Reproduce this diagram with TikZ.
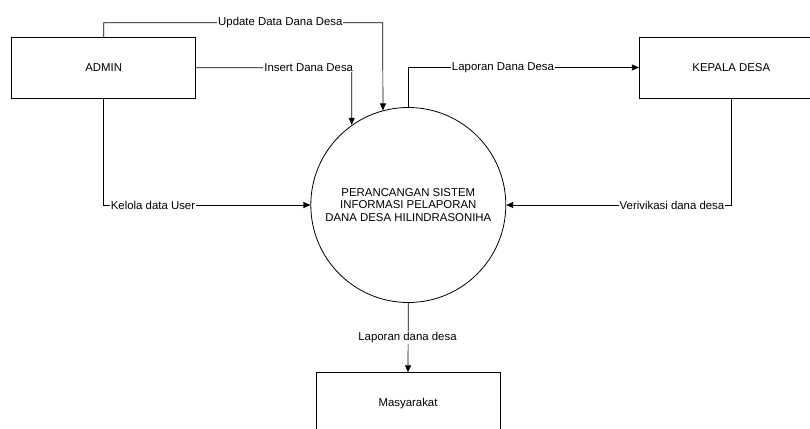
\documentclass[tikz,border=0pt]{standalone}
\usepackage{fontspec}
\setmainfont{Liberation Sans}
\usetikzlibrary{arrows.meta}
\begin{document}
\begin{tikzpicture}[x=1pt,y=-1pt,
  font=\fontsize{11.4}{12.6}\selectfont,
  entity/.style={draw, line width=0.8pt, minimum width=184pt, minimum height=61pt, inner sep=0pt},
  process/.style={draw, circle, line width=0.8pt, minimum size=195pt, inner sep=0pt, align=center},
  flow/.style={draw, line width=0.7pt, -{Triangle[length=7pt,width=6pt]}},
  lbl/.style={fill=white, inner sep=1pt}]
\useasboundingbox (0,0) rectangle (810,428);
\clip (0,0) rectangle (810,428);

% external entities and the process
\node[entity] (admin) at (103.7,67.8) {ADMIN};
\node[entity] (kepala) at (731.3,67.5) {KEPALA DESA};
\node[entity] (masy) at (408,403.2) {Masyarakat};
\node[process] (proc) at (408.3,205) {PERANCANGAN SISTEM\\INFORMASI PELAPORAN\\DANA DESA HILINDRASONIHA};

% corner points of the routed flows
\coordinate (updC) at (382.7,22.7);
\coordinate (insC) at (351.7,67.5);

% data flows
\draw[flow] (admin.north) |- (updC) -- (proc.105.2);
\draw[flow] (admin.east) -- (insC) -- (insC |- proc.125.5);
\draw[flow] (admin.south) |- (proc.west);
\draw[flow] (proc.north) |- (kepala.west);
\draw[flow] (kepala.south) |- (proc.east);
\draw[flow] (proc.south) -- (masy.north);

% flow labels
\node[lbl] (updL) at (280.3,22.7) {Update Data Dana Desa};
\node[lbl, anchor=east] (insL) at (354.3,67.5) {Insert Dana Desa};
\node[lbl] (kelL) at (153,205) {Kelola data User};
\node[lbl] (lapL) at (503,67.5) {Laporan Dana Desa};
\node[lbl] (verL) at (672,205) {Verivikasi dana desa};
\node[lbl] (lapB) at (407.5,337.3) {Laporan dana desa};
\end{tikzpicture}
\end{document}
